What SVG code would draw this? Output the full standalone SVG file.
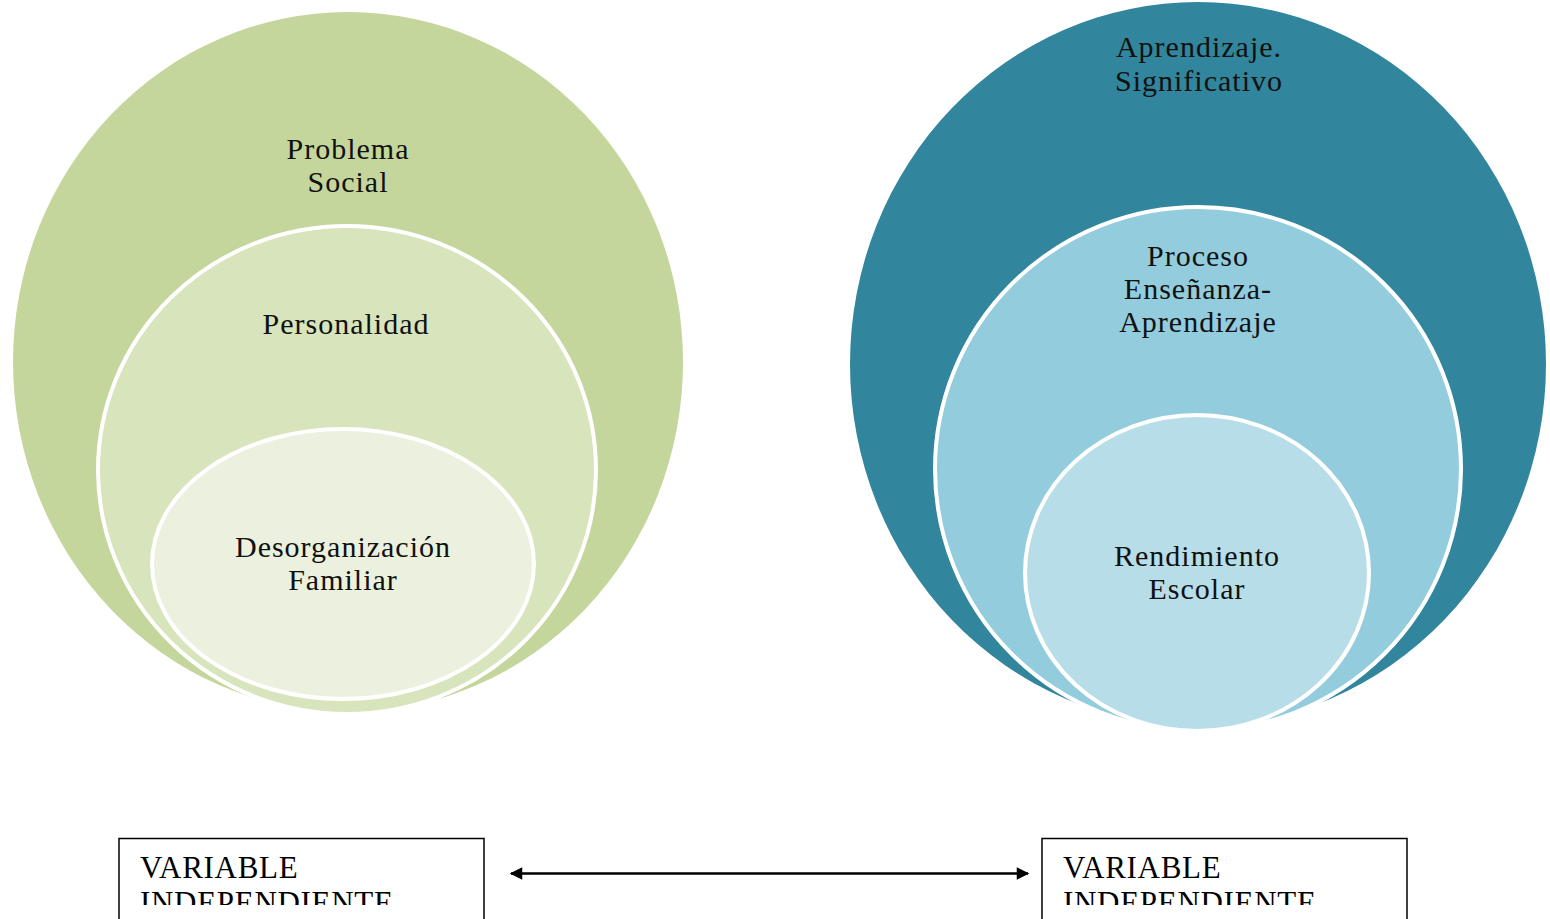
<svg xmlns="http://www.w3.org/2000/svg" width="1550" height="919" viewBox="0 0 1550 919">
<style>
.lbl{font-family:"Liberation Serif","Times New Roman",serif;font-size:30px;letter-spacing:1px;fill:#111;text-anchor:middle}
.ring{stroke:#fff;stroke-width:4}
.box{fill:#fff;stroke:#000;stroke-width:1.5}
.btxt{font-family:"Liberation Serif","Times New Roman",serif;font-size:31px;letter-spacing:0.7px;fill:#000}
</style>
<defs>
<marker id="ah" viewBox="0 0 10 10" refX="9" refY="5" markerWidth="5.5" markerHeight="5" orient="auto-start-reverse" markerUnits="strokeWidth">
<path d="M0,0 L10,5 L0,10 z" fill="#000"/>
</marker>
<clipPath id="clipL"><rect x="119" y="838" width="365" height="67"/></clipPath>
<clipPath id="clipR"><rect x="1042" y="838" width="365" height="67"/></clipPath>
</defs>
<rect width="1550" height="919" fill="#fff"/>
<g id="left-outer">
<ellipse cx="348" cy="362" rx="335" ry="350" fill="#C4D69B"/>
<text class="lbl" x="348" y="159">Problema</text>
<text class="lbl" x="348" y="192">Social</text>
</g>
<g id="left-middle">
<ellipse class="ring" cx="347" cy="470" rx="249" ry="244" fill="#D8E4BC"/>
<text class="lbl" x="346" y="334">Personalidad</text>
</g>
<g id="left-inner">
<ellipse class="ring" cx="343" cy="564" rx="191" ry="135" fill="#EBF1DE"/>
<text class="lbl" x="343" y="557">Desorganización</text>
<text class="lbl" x="343" y="590">Familiar</text>
</g>
<g id="right-outer">
<ellipse cx="1198" cy="364" rx="348" ry="362" fill="#31859C"/>
<text class="lbl" x="1199" y="57">Aprendizaje.</text>
<text class="lbl" x="1199" y="91">Significativo</text>
</g>
<g id="right-middle">
<ellipse class="ring" cx="1198" cy="469" rx="263" ry="262" fill="#93CDDD"/>
<text class="lbl" x="1198" y="266">Proceso</text>
<text class="lbl" x="1198" y="299">Enseñanza-</text>
<text class="lbl" x="1198" y="332">Aprendizaje</text>
</g>
<g id="right-inner">
<ellipse class="ring" cx="1197" cy="573" rx="172" ry="158" fill="#B7DEE8"/>
<text class="lbl" x="1197" y="566">Rendimiento</text>
<text class="lbl" x="1197" y="599">Escolar</text>
</g>
<g id="box-left">
<rect class="box" x="119" y="838.5" width="365" height="100"/>
<g clip-path="url(#clipL)">
<text class="btxt" x="140" y="878">VARIABLE</text>
<text class="btxt" x="140" y="913">INDEPENDIENTE</text>
</g>
</g>
<g id="box-right">
<rect class="box" x="1042" y="838.5" width="365" height="100"/>
<g clip-path="url(#clipR)">
<text class="btxt" x="1063" y="878">VARIABLE</text>
<text class="btxt" x="1063" y="913">INDEPENDIENTE</text>
</g>
</g>
<g id="connectors">
<line x1="511" y1="873.5" x2="1028" y2="873.5" stroke="#000" stroke-width="2.5" marker-start="url(#ah)" marker-end="url(#ah)"/>
</g>
</svg>
